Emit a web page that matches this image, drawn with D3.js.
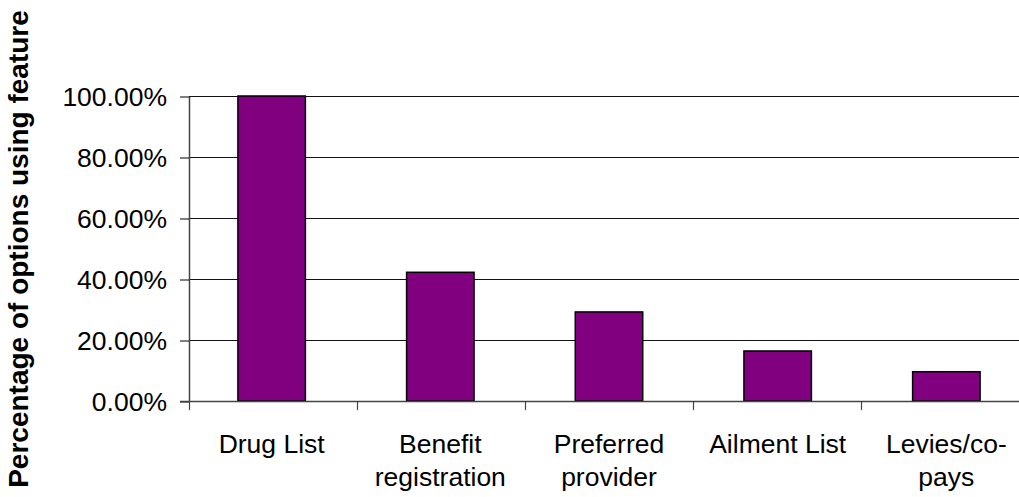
<!DOCTYPE html>
<html>
<head>
<meta charset="utf-8">
<script src="https://cdn.jsdelivr.net/npm/d3@7"></script>
<style>
  html, body { margin: 0; padding: 0; background: #fff; }
  svg { display: block; }
  text { font-family: "Liberation Sans", Arial, sans-serif; fill: #000; }
</style>
</head>
<body>
<svg id="chart" width="1019" height="497"></svg>
<script>
// Feature usage across options
const categories = [["Drug List"], ["Benefit", "registration"], ["Preferred", "provider"], ["Ailment List"], ["Levies/co-", "pays"]];
const shares = [1.0, 0.422, 0.292, 0.164, 0.096];
const yTicks = [0, 0.2, 0.4, 0.6, 0.8, 1.0];
const yTitle = "Percentage of options using feature";

const svg = d3.select("#chart");
const plotLeft = 189, plotRight = 1029, plotTop = 96, plotBottom = 401;
const labelSize = 26.5;

const x = d3.scaleBand()
  .domain(d3.range(categories.length))
  .range([plotLeft, plotRight])
  .paddingInner(0.6)
  .paddingOuter(0.29);

// width of one category slot, used for the boundary tick marks
const slot = (plotRight - plotLeft) / categories.length;

const y = d3.scaleLinear().domain([0, 1]).range([plotBottom, plotTop]);

// horizontal gridlines
svg.append("g")
  .selectAll("line")
  .data(yTicks.filter(d => d > 0))
  .join("line")
  .attr("x1", plotLeft).attr("x2", plotRight)
  .attr("y1", d => y(d) + 0.5).attr("y2", d => y(d) + 0.5)
  .attr("stroke", "#111").attr("stroke-width", 1);

// bars
svg.append("g")
  .selectAll("rect")
  .data(shares)
  .join("rect")
  .attr("x", (d, i) => x(i))
  .attr("y", d => y(d))
  .attr("width", x.bandwidth())
  .attr("height", d => plotBottom - y(d))
  .attr("fill", "#800080")
  .attr("stroke", "#000")
  .attr("stroke-width", 1.5);

// y axis
const yAxis = d3.axisLeft(y)
  .tickValues(yTicks)
  .tickFormat(d => (d * 100).toFixed(2) + "%")
  .tickSize(9)
  .tickSizeOuter(0)
  .tickPadding(13);
const gy = svg.append("g").attr("transform", `translate(${plotLeft},0.5)`).call(yAxis);
gy.select(".domain").attr("stroke", "#444").attr("stroke-width", 1.5);
gy.selectAll(".tick line").attr("stroke", "#000");
gy.selectAll(".tick text")
  .attr("font-size", labelSize)
  .attr("font-family", "Liberation Sans, Arial, sans-serif")
  .attr("fill", "#000")
  .attr("dy", "0.35em");

// x axis baseline
svg.append("line")
  .attr("x1", plotLeft - 9).attr("x2", plotRight)
  .attr("y1", plotBottom + 0.5).attr("y2", plotBottom + 0.5)
  .attr("stroke", "#444").attr("stroke-width", 1.5);

// category boundary ticks
svg.append("g")
  .selectAll("line")
  .data(d3.range(categories.length + 1))
  .join("line")
  .attr("x1", i => plotLeft + i * slot + 0.5).attr("x2", i => plotLeft + i * slot + 0.5)
  .attr("y1", plotBottom).attr("y2", plotBottom + 9)
  .attr("stroke", "#444").attr("stroke-width", 1.2);

// category labels
const labels = svg.append("g")
  .selectAll("text")
  .data(categories)
  .join("text")
  .attr("x", (d, i) => x(i) + x.bandwidth() / 2)
  .attr("y", 453)
  .attr("text-anchor", "middle")
  .attr("font-size", labelSize);
labels.selectAll("tspan")
  .data(d => d)
  .join("tspan")
  .attr("x", function () { return this.parentNode.getAttribute("x"); })
  .attr("dy", (d, i) => i === 0 ? 0 : 33)
  .text(d => d);

// y axis title
svg.append("text")
  .attr("transform", "translate(28,249) rotate(-90)")
  .attr("text-anchor", "middle")
  .attr("font-size", 28)
  .attr("font-weight", "bold")
  .text(yTitle);
</script>
</body>
</html>
